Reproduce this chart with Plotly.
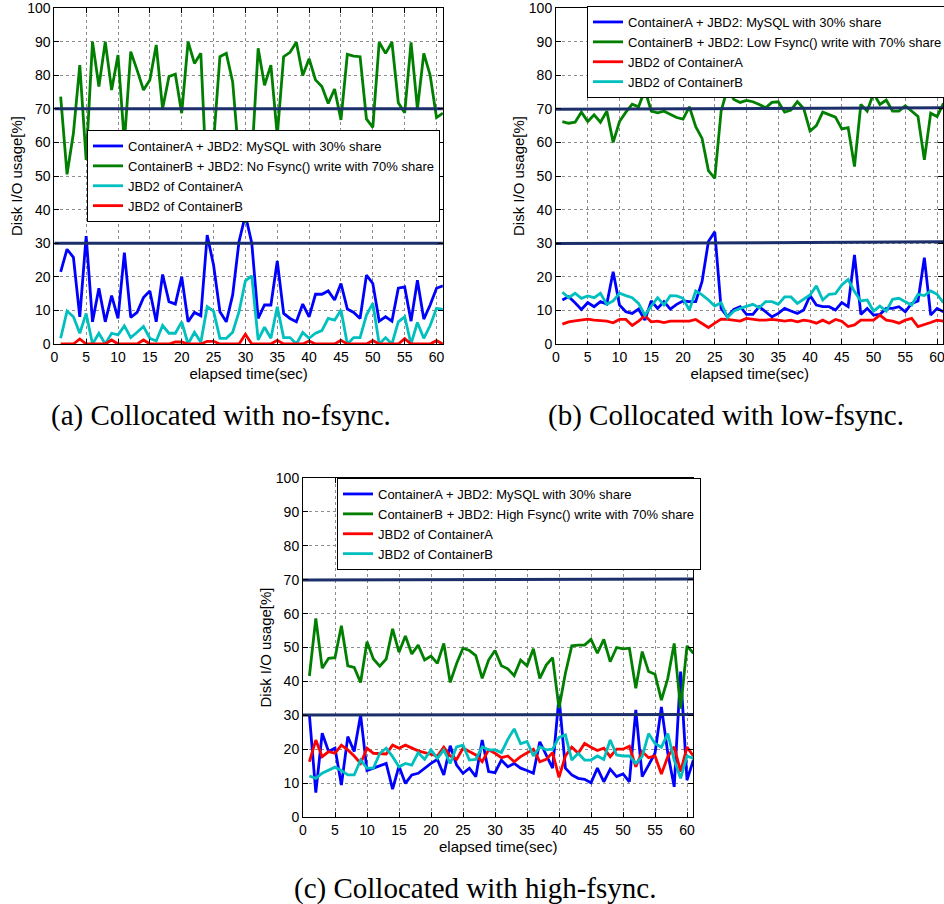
import plotly.graph_objects as go

# ---------------------------------------------------------------- data
time_s = list(range(1, 62))
x_ticks = [0, 5, 10, 15, 20, 25, 30, 35, 40, 45, 50, 55, 60]
y_ticks = [0, 10, 20, 30, 40, 50, 60, 70, 80, 90, 100]
share_x = [0, 61]

# (a) collocated with no-fsync
mysql_a = [21.5, 28.2, 25.8, 8.1, 32.1, 6.6, 16.6, 6.6, 14.4, 7.6,
           27.2, 7.9, 9.4, 13.8, 15.8, 6.6, 20.7, 12.6, 11.9, 20,
           6.6, 9.4, 8.4, 32.4, 23.5, 9.6, 6.6, 14.6, 30.5, 38.4,
           30, 7.6, 11.6, 11.6, 24.7, 9.1, 7.6, 6.6, 11.9, 8.1,
           14.8, 14.8, 15.8, 13.1, 18, 10.4, 9.4, 7.6, 20.5, 18,
           6.8, 8.1, 6.8, 16.6, 17, 6.8, 19, 7.4, 11.6, 16.6, 17.3]
write_a = [73.6, 50.5, 62.7, 83, 54.8, 90, 76.6, 90, 75.6, 86,
           60, 87, 81.5, 75.6, 78.6, 89, 70, 79.6, 80.3, 68.7,
           90, 83.5, 86.5, 45, 60, 85.5, 86.5, 78, 55, 36,
           55, 88, 77, 83, 62, 85.5, 86.8, 89.8, 79.9, 84.9,
           78.6, 76.6, 71.6, 75.9, 66.7, 86.2, 85.7, 85.5, 67, 64.5,
           89.8, 86.5, 89.8, 71.8, 68.8, 89.8, 70, 86.5, 80, 67.4, 68.7]
jbd2_cA_a = [1.7, 9.8, 8.1, 3.2, 9.1, 0, 3.2, 0, 3.2, 2.7,
             5.4, 1.9, 3.5, 5.2, 1.7, 0.9, 5.5, 3.2, 3.2, 6.6,
             0, 3.5, 0.5, 11.1, 9.8, 1.7, 1.7, 3.5, 9.6, 18.8,
             20.3, 1.2, 5, 1.7, 11.1, 1.9, 1.9, 0, 3.4, 1.7,
             3.2, 4, 7.6, 7.1, 10.1, 0, 1.9, 1.9, 8.6, 12.1,
             0, 1.9, 0, 6.6, 8.1, 0, 6.4, 1.7, 5.5, 10.6, 10.3]
jbd2_cB_a = [0, 0, 0, 1.5, 0, 0, 0, 0, 1.2, 0,
             0, 0, 0, 1.2, 0, 0, 0, 0, 0.6, 0.6,
             0, 0, 0, 0.8, 0.8, 0, 0, 0, 0, 2.9,
             0, 0, 0, 0, 1.1, 0, 0, 0, 0, 0.9,
             0, 0, 0, 0, 1.1, 0, 0, 0, 0, 1.0,
             0, 0, 0, 0, 1.6, 0, 0, 0, 0, 1.0, 0]
share_lo_a = [30, 30]
share_hi_a = [70, 70]

# (b) collocated with low-fsync
mysql_b = [13.1, 14.1, 12.3, 10.3, 12.3, 11.1, 12.6, 11.9, 21.5, 11.6,
           9.6, 9.1, 10.4, 7.1, 12.8, 10.6, 12.6, 10.4, 11.8, 12.8,
           12.6, 12.6, 18.6, 30.5, 33.4, 10.6, 8.1, 10.3, 11.1, 8.8,
           8.8, 11.1, 9.6, 8.1, 9.1, 10.6, 9.8, 9.1, 10.1, 14.4,
           11.6, 11.1, 11.1, 10.1, 12.3, 11.1, 26.5, 8.8, 10.6, 8.6,
           8.8, 10.6, 10.6, 11.1, 9.6, 12.1, 12.8, 25.7, 8.6, 10.6, 9.6]
write_b = [66.2, 65.7, 66, 69, 66.2, 68.2, 66, 69.3, 60, 66.2,
           69, 71.4, 70.6, 75.6, 69.3, 68.8, 69.3, 68.4, 67.4, 66.9,
           70.6, 64.7, 61.2, 51.6, 49.3, 69.3, 76.1, 72.8, 71.9, 72.5,
           72.1, 71.3, 70.3, 71.9, 72.1, 69, 69.6, 72.1, 70.1, 63.4,
           65, 69, 68.2, 67.5, 64, 64.4, 52.8, 71.3, 69.3, 74.6,
           71.3, 72.6, 69.3, 69.3, 70.9, 69.3, 67.7, 54.8, 68.7, 67.7, 71.6]
jbd2_cA_b = [5.9, 6.6, 6.9, 7.1, 7.4, 7.1, 6.9, 6.8, 6.3, 7.3,
             7.3, 5.5, 6.8, 8.4, 6.6, 6.8, 6.4, 6.8, 6.8, 6.8,
             6.8, 7.3, 6.2, 4.9, 6.2, 7.4, 7.3, 7.1, 6.8, 7.6,
             7.3, 7.1, 7.1, 7.3, 7.1, 6.8, 7.1, 6.6, 7.1, 6.8,
             6.2, 7.1, 6.2, 7.3, 6.8, 5.2, 5.7, 7.1, 7.1, 7.1,
             8.6, 7.1, 6.8, 6.2, 7.1, 7.6, 5.2, 5.7, 6.4, 7.1, 6.8]
jbd2_cB_b = [15.4, 13.8, 15.1, 13.6, 14.3, 13.8, 15.1, 11.8, 12.8, 15.1,
             14.4, 13.8, 12.1, 8.6, 11.3, 13.8, 11.6, 14.4, 14.3, 13.6,
             10.1, 15.8, 14.6, 13.1, 11.3, 12.3, 7.9, 9.8, 10.6, 11.1,
             11.8, 10.8, 12.6, 12.6, 11.8, 14, 14, 12.1, 13.4, 14.6,
             17.3, 13.1, 14.8, 15, 17.6, 19.2, 15.6, 12.8, 13.1, 9.8,
             11.3, 9.8, 13.3, 13.6, 12.6, 11.6, 14.8, 14.4, 15.8, 14.8, 12.3]
share_lo_b = [29.9, 30.4]
share_hi_b = [69.9, 70.3]

# (c) collocated with high-fsync
mysql_c = [30.1, 7.2, 24.7, 19.3, 20.3, 9.4, 23.7, 19.3, 30.1, 13.7,
           14.4, 15, 15.8, 8.2, 15, 9.9, 12.4, 12.9, 14.4, 15.8,
           17, 12.4, 21, 15.3, 12.9, 14.4, 11.9, 22.7, 13.4, 13.1,
           16.8, 14.8, 15.8, 14.4, 13.7, 12.9, 22.2, 18.3, 14.4, 35.5,
           14.4, 12.4, 11.4, 11.1, 10.1, 14.4, 10.4, 14.1, 11.9, 12.7,
           10.4, 31.6, 11.9, 15.3, 18.8, 32.5, 18.8, 8.9, 42.9, 10.9, 16.8]
write_c = [41.6, 58.6, 43.9, 46.8, 47, 56.4, 44.6, 44.1, 39.7, 51.7,
           46.6, 44.5, 46.6, 55.5, 48.6, 53.4, 48.1, 50.7, 46.3, 47.5,
           45.3, 51.2, 39.7, 45.3, 49.8, 49.1, 47.6, 40.9, 46.3, 49.1,
           44.6, 43.7, 41.7, 46.3, 44.6, 49.6, 40.9, 44.8, 47, 32.1,
           42.4, 50.5, 50.7, 50.7, 52.4, 48.3, 52.4, 45.8, 50, 49.6,
           49.8, 38, 48.8, 42.9, 42.1, 34.5, 40.9, 51.2, 32, 50.5, 48.3]
jbd2_cA_c = [16.3, 22.7, 17.8, 19.3, 18.8, 21.2, 19.8, 18, 15.8, 20.3,
             18.8, 18.6, 18.6, 21.2, 20.3, 21.2, 20.3, 19.5, 19, 18.6,
             18, 20.6, 18, 17, 20.3, 19.3, 18.3, 16.3, 19.8, 18.8,
             17.5, 18, 16.3, 17.8, 19, 20, 16.3, 17, 19, 11.7,
             18, 20.6, 18.8, 21.7, 20.6, 19.6, 20.3, 17.8, 20, 20,
             20.9, 14.8, 19.3, 17.5, 18, 12.7, 17.8, 20.7, 13.4, 20.6, 18]
jbd2_cB_c = [12.1, 11.4, 12.9, 13.9, 14.7, 13.7, 12.4, 12.4, 16.8, 14.4,
             14.4, 18.8, 20.3, 17.8, 14.8, 15.8, 15.3, 19, 17, 19.8,
             17.3, 19.8, 15.8, 20.7, 21.2, 16.8, 17, 20.7, 19.8, 19.8,
             19, 22.9, 26, 21.6, 22.3, 18, 20.7, 19.8, 20, 23.5,
             24.2, 16.8, 18.8, 16.8, 16.8, 18, 17, 22.7, 18.3, 18,
             18, 15.8, 17.8, 24.6, 21.7, 20.6, 24.6, 16.8, 11.4, 18, 17.3]
share_lo_c = [30.1, 30.2]
share_hi_c = [69.9, 70.2]

name_mysql = "ContainerA + JBD2: MySQL with 30% share"
name_jA = "JBD2 of ContainerA"
name_jB = "JBD2 of ContainerB"

# ---------------------------------------------------------------- styling
W, H = 944, 904
BLUE, GREEN, CYAN, RED, NAVY = "#0000ff", "#007f00", "#00bfbf", "#ff0000", "#1b2f6a"
SANS = "Liberation Sans"
SERIF = "Liberation Serif"
LW = 2.8


def fx(p):
    return p / W


def fy(p):
    return 1 - p / H


fig = go.Figure()

panels = [
    dict(ax="", leg="legend", box=(54.3, 442.9, 8, 344), legpos=(87, 130),
         series=[(mysql_a, name_mysql, BLUE),
                 (write_a, "ContainerB + JBD2: No Fsync() write with 70% share", GREEN),
                 (jbd2_cA_a, name_jA, CYAN),
                 (jbd2_cB_a, name_jB, RED)],
         shares=(share_lo_a, share_hi_a),
         caption="(a) Collocated with no-fsync.", cap=(221, 415)),
    dict(ax="2", leg="legend2", box=(556, 943.4, 8, 344), legpos=(587, 6),
         series=[(mysql_b, name_mysql, BLUE),
                 (write_b, "ContainerB + JBD2: Low Fsync() write with 70% share", GREEN),
                 (jbd2_cA_b, name_jA, RED),
                 (jbd2_cB_b, name_jB, CYAN)],
         shares=(share_lo_b, share_hi_b),
         caption="(b) Collocated with low-fsync.", cap=(726, 415)),
    dict(ax="3", leg="legend3", box=(303, 693.4, 478, 817), legpos=(337, 478),
         series=[(mysql_c, name_mysql, BLUE),
                 (write_c, "ContainerB + JBD2: High Fsync() write with 70% share", GREEN),
                 (jbd2_cA_c, name_jA, RED),
                 (jbd2_cB_c, name_jB, CYAN)],
         shares=(share_lo_c, share_hi_c),
         caption="(c) Collocated with high-fsync.", cap=(475, 888)),
]

layout = dict(
    width=W, height=H,
    margin=dict(l=0, r=0, t=0, b=0, autoexpand=False),
    paper_bgcolor="white", plot_bgcolor="white",
    font=dict(family=SANS, color="black"),
    annotations=[],
)

for p in panels:
    xa, ya = "x" + p["ax"], "y" + p["ax"]
    for vals, label, color in p["series"]:
        fig.add_trace(go.Scatter(
            x=time_s, y=vals, mode="lines", name=label,
            line=dict(color=color, width=LW),
            xaxis=xa, yaxis=ya, legend=p["leg"]))
    for level in p["shares"]:
        fig.add_trace(go.Scatter(
            x=share_x, y=level, mode="lines", showlegend=False,
            line=dict(color=NAVY, width=3), hoverinfo="skip",
            xaxis=xa, yaxis=ya, legend=p["leg"]))

    x0, x1, y0, y1 = p["box"]
    common = dict(
        ticks="inside", ticklen=5, tickcolor="black", tickwidth=1,
        showline=True, linecolor="black", linewidth=1, mirror="allticks",
        showgrid=True, gridcolor="#8c8c8c", griddash="dot", gridwidth=1,
        zeroline=False, ticklabeloverflow="allow",
        tickfont=dict(family=SANS, size=14, color="black"),
    )
    layout["xaxis" + p["ax"]] = dict(
        common, domain=[fx(x0), fx(x1)], range=[0, 61], tickvals=x_ticks,
        anchor=ya,
        title=dict(text="elapsed time(sec)", standoff=2,
                   font=dict(family=SANS, size=15, color="black")))
    layout["yaxis" + p["ax"]] = dict(
        common, domain=[fy(y1), fy(y0)], range=[0, 100], tickvals=y_ticks,
        anchor=xa,
        title=dict(text="Disk I/O usage[%]", standoff=0,
                   font=dict(family=SANS, size=15, color="black")))

    lx, ly = p["legpos"]
    layout[p["leg"]] = dict(
        x=fx(lx), y=fy(ly), xanchor="left", yanchor="top",
        bgcolor="white", bordercolor="black", borderwidth=1,
        font=dict(family=SANS, size=13, color="black"),
        itemwidth=30, tracegroupgap=0, traceorder="normal")

    cx, cy = p["cap"]
    layout["annotations"].append(dict(
        text=p["caption"], x=fx(cx), y=fy(cy), xref="paper", yref="paper",
        xanchor="center", yanchor="middle", showarrow=False,
        font=dict(family=SERIF, size=29, color="black")))

fig.update_layout(**layout)
fig.write_html("out.html")
